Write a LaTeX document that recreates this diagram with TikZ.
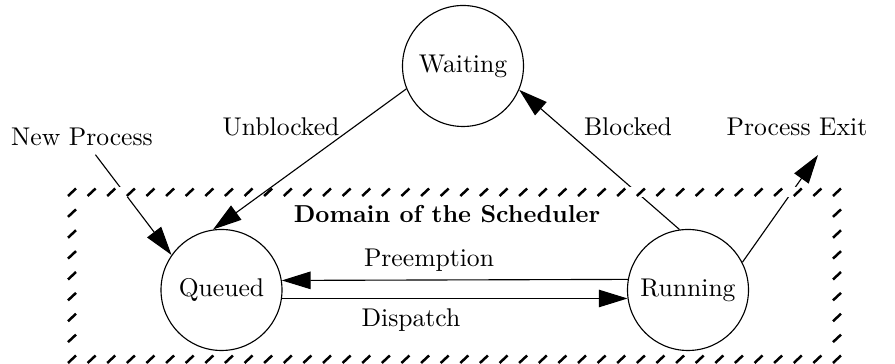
\documentclass[tikz,border=0pt]{standalone}
\usetikzlibrary{arrows.meta}
\tikzset{
  state/.style={circle,draw,line width=0.45pt,minimum size=48.4pt,inner sep=0pt},
  flow/.style={line width=0.45pt,-{Triangle[length=11.5pt,width=7pt]}},
  hatchmark/.style={line width=1pt},
  domainlabel/.style={font=\fontsize{9.8pt}{12pt}\selectfont\bfseries},
}
\begin{document}
\begin{tikzpicture}[x=0.4pt,y=-0.4pt]
\fontsize{10.25pt}{12pt}\selectfont
\useasboundingbox (0,0) rectangle (895,364);
% states
\node[state] (W) at (463,66) {Waiting};
\node[state] (Q) at (221.5,290) {Queued};
\node[state] (R) at (688,290) {Running};
% labels
\node[inner sep=3.33pt] (newp) at (82,137) {New Process};
\node (pexit) at (797,127) {Process Exit};
\coordinate (pe) at (818,155);
\node (unb) at (281,127) {Unblocked};
\node (blk) at (628,127) {Blocked};
\node (pre) at (429,260) {Preemption};
\node (dis) at (411,320) {Dispatch};
\node[domainlabel] (dom) at (447,214) {Domain of the Scheduler};
% connectors
\draw[flow] (newp) -- (Q.145);
\draw[flow] (R.98) -- (W.337);
\draw[flow] (R.27) -- (pe);
\draw[flow] (R.170.6) -- (Q.9.4);
\draw[flow] (Q.-8.5) -- (R.188.5);
% domain boundary: white band then hatch marks
\draw[white,line width=4.2pt] (72,192) rectangle (837,359);
\foreach \i in {0,...,39}{
  \draw[hatchmark] ({72+\i*19.615-4},196) -- ++(8,-7.5);
  \draw[hatchmark] ({72+\i*19.615-4},363) -- ++(8,-7.5);
}
\foreach \j in {1,...,7}{
  \draw[hatchmark] (68,{192+\j*20.875+4}) -- ++(8,-7.5);
  \draw[hatchmark] (833,{192+\j*20.875+4}) -- ++(8,-7.5);
}
% drawn over the boundary, as in the reference
\draw[flow] (W.202) -- (Q.98);
\end{tikzpicture}
\end{document}
